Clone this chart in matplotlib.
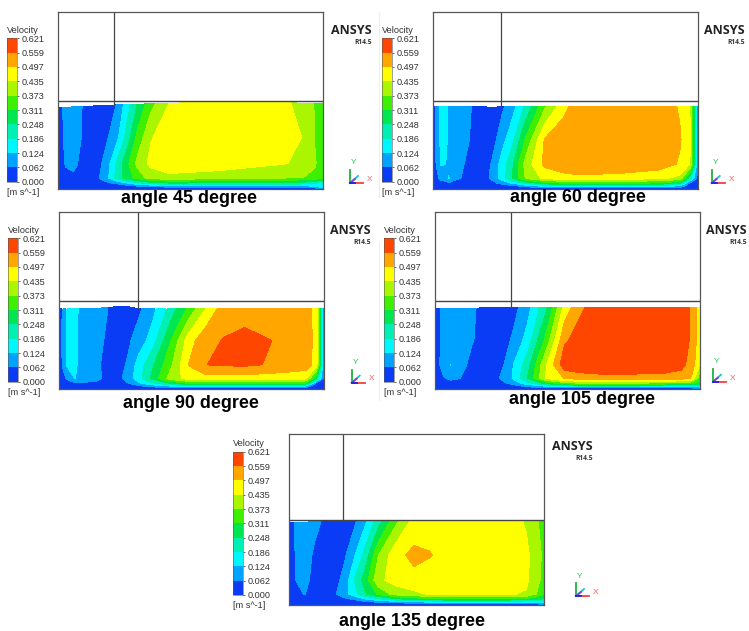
import numpy as np
import matplotlib
matplotlib.use('Agg')
import matplotlib.pyplot as plt
from matplotlib.colors import ListedColormap, BoundaryNorm

plt.rcParams['font.family'] = ['Liberation Sans', 'DejaVu Sans']

# velocity levels and their colours
levels = [0.000, 0.062, 0.124, 0.186, 0.248, 0.311, 0.373, 0.435, 0.497, 0.559, 0.621]
band_colors = ['#0a3cf5', '#00a2ff', '#00f6ff', '#00f0b4', '#00e650',
               '#3ef000', '#aaf500', '#ffff00', '#ffa600', '#ff4600']

titles = ['angle 45 degree', 'angle 60 degree', 'angle 90 degree',
          'angle 105 degree', 'angle 135 degree']

# sample nodes: along the channel and as a share of the water depth
x_nodes = [0, .03, .06, .10, .14, .18, .22, .26, .30, .35, .42, .49, .55, .62, .70, .85, .93, .97, 1]
depth_nodes = [0, .03, .07, .13, .3, .6, 1]

# free surface height, share of box height
surf_45 = [.462, .462, .465, .468, .47, .473, .476, .478, .48, .482, .485, .488, .49, .49, .49, .488, .486, .485, .485]
surf_60 = [.466, .466, .466, .466, .466, .467, .462, .466, .467, .467, .467, .467, .467, .467, .467, .467, .467, .467, .467]
surf_90 = [.452, .452, .452, .453, .455, .46, .465, .465, .454, .452, .452, .453, .454, .456, .456, .456, .456, .456, .456]
surf_105 = [.456, .456, .456, .457, .457, .458, .459, .461, .46, .459, .459, .459, .459, .46, .46, .462, .463, .463, .463]
surf_135 = [.485, .485, .485, .486, .486, .486, .486, .486, .487, .487, .487, .487, .487, .487, .487, .487, .487, .487, .487]

# velocity, rows go from the floor to the surface
v_45 = [
    [0, 0, 0, 0, 0, 0, 0, 0, 0, 0, 0, 0, 0, 0, 0, 0, 0, 0, .12],
    [.005, .01, .01, .01, .01, .02, .02, .03, .05, .06, .09, .10, .10, .10, .10, .10, .10, .12, .13],
    [.01, .02, .03, .03, .03, .05, .07, .12, .17, .22, .25, .25, .24, .24, .24, .24, .22, .20, .15],
    [.02, .05, .05, .03, .04, .09, .20, .28, .33, .40, .42, .415, .41, .40, .39, .38, .37, .36, .32],
    [.03, .065, .075, .04, .03, .08, .186, .29, .39, .45, .47, .47, .47, .47, .46, .44, .42, .38, .34],
    [.03, .075, .09, .05, .03, .05, .10, .21, .33, .43, .47, .485, .49, .49, .49, .47, .43, .37, .33],
    [.03, .08, .09, .055, .03, .04, .062, .15, .25, .35, .435, .46, .47, .475, .48, .45, .41, .37, .33],
]
v_60 = [
    [0, 0, 0, 0, 0, 0, 0, 0, 0, 0, 0, 0, 0, 0, 0, 0, 0, 0, 0],
    [.005, .01, .02, .01, .01, .01, .01, .02, .03, .07, .12, .13, .13, .13, .13, .13, .09, .02, .01],
    [.01, .03, .05, .03, .03, .03, .04, .08, .13, .20, .28, .31, .32, .32, .32, .30, .25, .04, .02],
    [.02, .08, .125, .065, .04, .03, .07, .15, .25, .38, .45, .47, .48, .475, .47, .45, .42, .20, .03],
    [.02, .13, .12, .075, .045, .03, .065, .15, .24, .40, .51, .54, .55, .55, .55, .53, .49, .43, .05],
    [.03, .14, .12, .09, .06, .035, .03, .10, .17, .32, .50, .545, .55, .55, .55, .55, .505, .44, .05],
    [.03, .14, .12, .09, .065, .04, .03, .05, .10, .20, .36, .47, .54, .55, .55, .54, .49, .43, .05],
]
v_90 = [
    [0, 0, 0, 0, 0, 0, 0, 0, 0, 0, 0, 0, 0, 0, 0, 0, 0, 0, 0],
    [.005, .01, .02, .02, .01, .01, .01, .02, .04, .07, .10, .12, .13, .13, .13, .13, .09, .02, .01],
    [.01, .03, .05, .05, .05, .04, .04, .06, .11, .17, .25, .31, .33, .33, .33, .32, .30, .04, .02],
    [.02, .07, .125, .10, .075, .05, .04, .09, .16, .26, .40, .46, .47, .47, .47, .46, .45, .25, .03],
    [.02, .13, .13, .10, .07, .05, .035, .07, .15, .235, .36, .50, .558, .566, .57, .545, .53, .47, .05],
    [.02, .135, .13, .105, .08, .055, .04, .05, .09, .15, .31, .47, .54, .562, .572, .553, .54, .47, .05],
    [.02, .13, .13, .11, .09, .065, .04, .03, .05, .10, .21, .33, .43, .53, .54, .55, .53, .47, .05],
]
v_105 = [
    [0, 0, 0, 0, 0, 0, 0, 0, 0, 0, 0, 0, 0, 0, 0, 0, 0, 0, .10],
    [.005, .01, .01, .01, .01, .01, .01, .02, .03, .07, .11, .14, .15, .15, .15, .15, .15, .14, .13],
    [.01, .02, .03, .035, .035, .03, .03, .05, .09, .16, .27, .35, .37, .37, .37, .36, .35, .33, .29],
    [.01, .05, .08, .06, .04, .03, .035, .08, .135, .25, .44, .50, .53, .54, .54, .54, .53, .49, .33],
    [.01, .09, .125, .075, .05, .04, .04, .06, .13, .22, .43, .60, .60, .60, .60, .60, .58, .53, .44],
    [.02, .08, .09, .085, .065, .05, .04, .04, .075, .15, .33, .55, .585, .60, .60, .60, .59, .55, .46],
    [.02, .08, .09, .085, .07, .05, .04, .035, .045, .10, .235, .46, .55, .59, .60, .60, .59, .55, .46],
]
v_135 = [
    [0, 0, 0, 0, 0, 0, 0, 0, 0, 0, 0, 0, 0, 0, 0, 0, 0, 0, .10],
    [.005, .005, .01, .005, .005, .01, .02, .02, .04, .05, .07, .09, .10, .10, .10, .10, .10, .10, .12],
    [.01, .01, .03, .02, .02, .03, .05, .07, .12, .17, .23, .27, .29, .30, .30, .30, .29, .26, .24],
    [.01, .03, .065, .04, .03, .055, .10, .165, .24, .32, .40, .42, .44, .44, .44, .44, .43, .37, .31],
    [.02, .065, .075, .05, .035, .04, .085, .195, .28, .42, .46, .48, .475, .48, .48, .475, .445, .40, .34],
    [.02, .07, .085, .055, .04, .03, .055, .125, .21, .37, .48, .512, .50, .485, .48, .475, .445, .41, .35],
    [.02, .08, .09, .075, .055, .04, .035, .055, .115, .22, .36, .46, .475, .48, .48, .46, .43, .385, .33],
]
velocity = [v_45, v_60, v_90, v_105, v_135]
surfaces = [surf_45, surf_60, surf_90, surf_105, surf_135]

# inlet divider position along the box
divider = [.211, .257, .299, .288, .2136]

# pixel layout of each panel
W, H = 749, 631
box_px = [(57.7, 12.3, 322.7, 189), (433, 12.3, 698.3, 189), (59, 212, 324.3, 389),
          (434.7, 212, 699.7, 389), (288.7, 434, 544.3, 605)]
bar_px = [(6.7, 38.3, 17, 181.7), (382.3, 38.3, 392.3, 181.7), (8.3, 238.3, 18.3, 381.7),
          (383.7, 238.3, 394, 381.7), (233, 451.7, 243, 595)]
logo_px = [(371.7, 30.7), (745, 30.7), (370.7, 231), (746.7, 231), (592.7, 447)]
triad_px = [(350, 183), (711.7, 183), (351.7, 382.7), (713, 381.7), (576, 596)]
title_px = [(189, 199), (578, 197), (191, 403), (581.7, 400), (412, 621.7)]

def fx(px):
    return px / W

def fy(py):
    return 1 - py / H

def place(rect):
    left, top, right, bottom = rect
    return fig.add_axes([fx(left), fy(bottom), (right - left) / W, (bottom - top) / H])

cmap = ListedColormap(band_colors)
norm = BoundaryNorm(levels, cmap.N)

fig = plt.figure(figsize=(W / 100, H / 100), dpi=100, facecolor='white')

# faint seam between the pasted pictures
fig.add_artist(plt.Line2D([fx(379), fx(379)], [fy(12), fy(197)], color='#eeeeee', lw=0.8))
fig.add_artist(plt.Line2D([fx(379), fx(379)], [fy(243), fy(400)], color='#eeeeee', lw=0.8))

for i in range(5):
    ax = place(box_px[i])
    X, D = np.meshgrid(x_nodes, depth_nodes)
    Y = D * np.array(surfaces[i])
    cf = ax.contourf(X, Y, np.array(velocity[i]), levels=levels, cmap=cmap, norm=norm)
    ax.plot([0, 1], [.5, .5], color='#444444', lw=1.0)
    ax.plot([divider[i], divider[i]], [np.interp(divider[i], x_nodes, surfaces[i]), 1], color='#444444', lw=0.9)
    ax.set_xlim(0, 1)
    ax.set_ylim(0, 1)
    ax.set_xticks([])
    ax.set_yticks([])
    for s in ax.spines.values():
        s.set_color('#555555')
        s.set_linewidth(0.9)

    # legend bar
    cax = place(bar_px[i])
    cb = fig.colorbar(cf, cax=cax, spacing='uniform')
    cb.set_ticks(levels)
    cb.set_ticklabels(['%.3f' % v for v in levels])
    cb.minorticks_off()
    cax.tick_params(length=1.5, width=0.5, labelsize=6.6, pad=1.5, labelcolor='#333333', color='#333333')
    cb.outline.set_linewidth(0.4)
    cb.outline.set_edgecolor('#555555')
    left, top, right, bottom = bar_px[i]
    fig.text(fx(left), fy(top - 8), 'Velocity', fontsize=6.6, color='#333333', va='center')
    fig.text(fx(left), fy(bottom + 10.5), '[m s^-1]', fontsize=6.6, color='#333333', va='center')

    # logo
    lx, ly = logo_px[i]
    fig.text(fx(lx), fy(ly), 'ANSYS', family='Open Sans', fontweight='bold', fontsize=9.0,
             color='#222222', ha='right', va='center')
    fig.text(fx(lx), fy(ly + 11.3), 'R14.5', family='Open Sans', fontweight='bold', fontsize=4.8,
             color='#333333', ha='right', va='center')

    # axis triad
    ox, oy = triad_px[i]
    for dx, dy, c in [(13, 0, '#f04040'), (0, -13, '#20b040'), (8, -7, '#10c8d0'), (5, -4, '#8040d0'), (5, 0, '#2020e0')]:
        fig.add_artist(plt.Line2D([fx(ox), fx(ox + dx)], [fy(oy), fy(oy + dy)], color=c, lw=1.3))
    fig.text(fx(ox + 4), fy(oy - 20), 'Y', fontsize=6, color='#30c060', ha='center', va='center')
    fig.text(fx(ox + 20), fy(oy - 3.7), 'X', fontsize=6, color='#f06060', ha='center', va='center')

    tx, ty = title_px[i]
    fig.text(fx(tx), fy(ty), titles[i], fontsize=12.9, fontweight='bold', color='black', ha='center', va='center')

fig.savefig('out.png', dpi=100)
